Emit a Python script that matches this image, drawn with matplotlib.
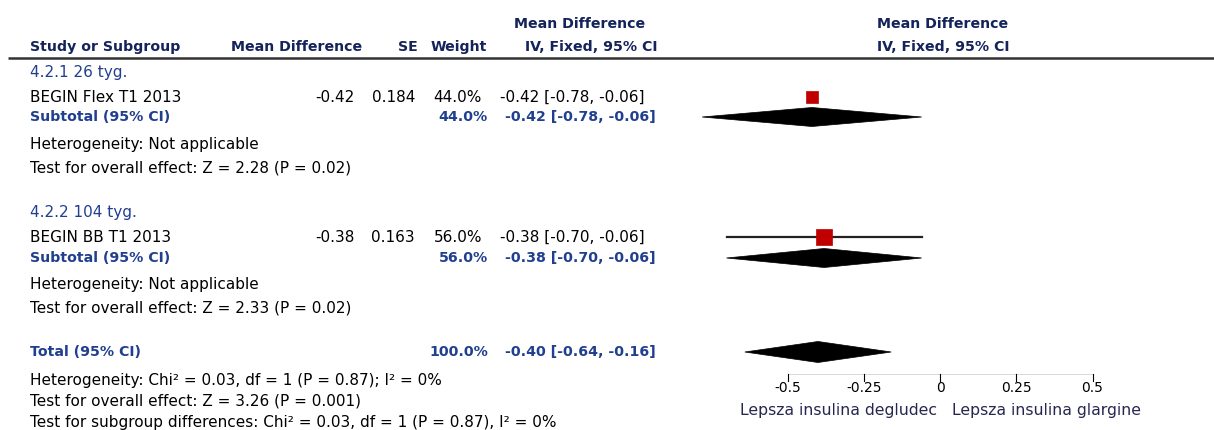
import matplotlib
matplotlib.use("Agg")
import matplotlib.pyplot as plt
from matplotlib.patches import Polygon, Rectangle

# ---- data -------------------------------------------------------------
subgroups = ["4.2.1 26 tyg.", "4.2.2 104 tyg."]
studies = ["BEGIN Flex T1 2013", "BEGIN BB T1 2013"]
study_md = [-0.42, -0.38]
study_se = [0.184, 0.163]
study_low = [-0.78, -0.70]
study_high = [-0.06, -0.06]
study_weight = [44.0, 56.0]

sub_md = [-0.42, -0.38]
sub_low = [-0.78, -0.70]
sub_high = [-0.06, -0.06]
sub_weight = [44.0, 56.0]
sub_het = ["Heterogeneity: Not applicable", "Heterogeneity: Not applicable"]
sub_test = ["Test for overall effect: Z = 2.28 (P = 0.02)",
            "Test for overall effect: Z = 2.33 (P = 0.02)"]

total_md = -0.40
total_low = -0.64
total_high = -0.16
total_weight = 100.0
total_notes = ["Heterogeneity: Chi\u00b2 = 0.03, df = 1 (P = 0.87); I\u00b2 = 0%",
               "Test for overall effect: Z = 3.26 (P = 0.001)",
               "Test for subgroup differences: Chi\u00b2 = 0.03, df = 1 (P = 0.87), I\u00b2 = 0%"]

ticks = [-0.5, -0.25, 0, 0.25, 0.5]
tick_labels = ["-0.5", "-0.25", "0", "0.25", "0.5"]
favours = ["Lepsza insulina degludec", "Lepsza insulina glargine"]

# ---- layout (pixel units) --------------------------------------------
W, H = 1214, 430
PX_PER_UNIT = 305.0
ZERO_X = 940.0
HEAD_C = "#14245a"
SUB_C = "#203f8f"
FS = 11.0
FS_H = 10.2

fig = plt.figure(figsize=(W / 100, H / 100), dpi=100)
tax = fig.add_axes([0, 0, 1, 1])
tax.set_xlim(0, W)
tax.set_ylim(H, 0)
tax.axis("off")

plot_left, plot_right = 690, 1190
fax = fig.add_axes([plot_left / W, 0, (plot_right - plot_left) / W, 1])
fax.set_xlim((plot_left - ZERO_X) / PX_PER_UNIT, (plot_right - ZERO_X) / PX_PER_UNIT)
fax.set_ylim(H, 0)
fax.axis("off")


def ci_text(m, lo, hi):
    return f"{m:.2f} [{lo:.2f}, {hi:.2f}]"


def txt(x, y, s, ha="left", color="black", bold=False, size=None):
    tax.text(x, y, s, ha=ha, va="center", color=color,
             fontsize=size or (FS_H if bold else FS),
             fontweight="bold" if bold else "normal", family="DejaVu Sans")


def diamond(m, lo, hi, y, h=18):
    fax.add_patch(Polygon([(lo, y), (m, y - h / 2), (hi, y), (m, y + h / 2)],
                          closed=True, facecolor="black", edgecolor="black", lw=0.5))


# column headers
txt(580, 24, "Mean Difference", ha="center", color=HEAD_C, bold=True)
txt(943, 24, "Mean Difference", ha="center", color=HEAD_C, bold=True)
txt(30, 47, "Study or Subgroup", color=HEAD_C, bold=True)
txt(297, 47, "Mean Difference", ha="center", color=HEAD_C, bold=True)
txt(418, 47, "SE", ha="right", color=HEAD_C, bold=True)
txt(487, 47, "Weight", ha="right", color=HEAD_C, bold=True)
txt(591, 47, "IV, Fixed, 95% CI", ha="center", color=HEAD_C, bold=True)
txt(943, 47, "IV, Fixed, 95% CI", ha="center", color=HEAD_C, bold=True)
tax.plot([8, W], [58, 58], color="#333333", lw=1.8, solid_capstyle="butt")

group_rows = [(72, 97, 117, 145, 168), (213, 237, 258, 285, 308)]
for i, (y_sg, y_st, y_sub, y_het, y_test) in enumerate(group_rows):
    txt(30, y_sg, subgroups[i], color=SUB_C)
    # study row
    txt(30, y_st, studies[i])
    txt(355, y_st, f"{study_md[i]:.2f}", ha="right")
    txt(415, y_st, f"{study_se[i]:.3f}", ha="right")
    txt(482, y_st, f"{study_weight[i]:.1f}%", ha="right")
    txt(500, y_st, ci_text(study_md[i], study_low[i], study_high[i]))
    # subtotal row
    txt(30, y_sub, "Subtotal (95% CI)", color=SUB_C, bold=True)
    txt(488, y_sub, f"{sub_weight[i]:.1f}%", ha="right", color=SUB_C, bold=True)
    txt(505, y_sub, ci_text(sub_md[i], sub_low[i], sub_high[i]), color=SUB_C, bold=True)
    txt(30, y_het, sub_het[i])
    txt(30, y_test, sub_test[i])

    side = study_weight[i] * 0.28
    if i == 1:
        fax.plot([study_low[i], study_high[i]], [y_st, y_st], color="#222222", lw=1.6)
    fax.add_patch(Rectangle((study_md[i] - side / 2 / PX_PER_UNIT, y_st - side / 2),
                            side / PX_PER_UNIT, side, facecolor="#c00000",
                            edgecolor="#c00000", lw=0.5, zorder=3))
    diamond(sub_md[i], sub_low[i], sub_high[i], y_sub, h=19)

# overall
y_tot = 352
txt(30, y_tot, "Total (95% CI)", color=SUB_C, bold=True)
txt(488, y_tot, f"{total_weight:.1f}%", ha="right", color=SUB_C, bold=True)
txt(505, y_tot, ci_text(total_md, total_low, total_high), color=SUB_C, bold=True)
diamond(total_md, total_low, total_high, y_tot, h=21)
for y, s in zip([381, 401, 423], total_notes):
    txt(30, y, s)

# axis
y_ax = 374
fax.plot([ticks[0], ticks[-1]], [y_ax, y_ax], color="#cccccc", lw=0.5)
for t, lab in zip(ticks, tick_labels):
    fax.plot([t, t], [y_ax, y_ax + 7], color="black", lw=0.8)
    fax.text(t, y_ax + 14, lab, ha="center", va="center", fontsize=10,
             family="DejaVu Sans")
fax.text(-0.01, 410, favours[0], ha="right", va="center", fontsize=11.3,
         color="#262650", family="DejaVu Sans")
fax.text(0.04, 410, favours[1], ha="left", va="center", fontsize=11.3,
         color="#262650", family="DejaVu Sans")

fig.savefig("out.png", dpi=100)
